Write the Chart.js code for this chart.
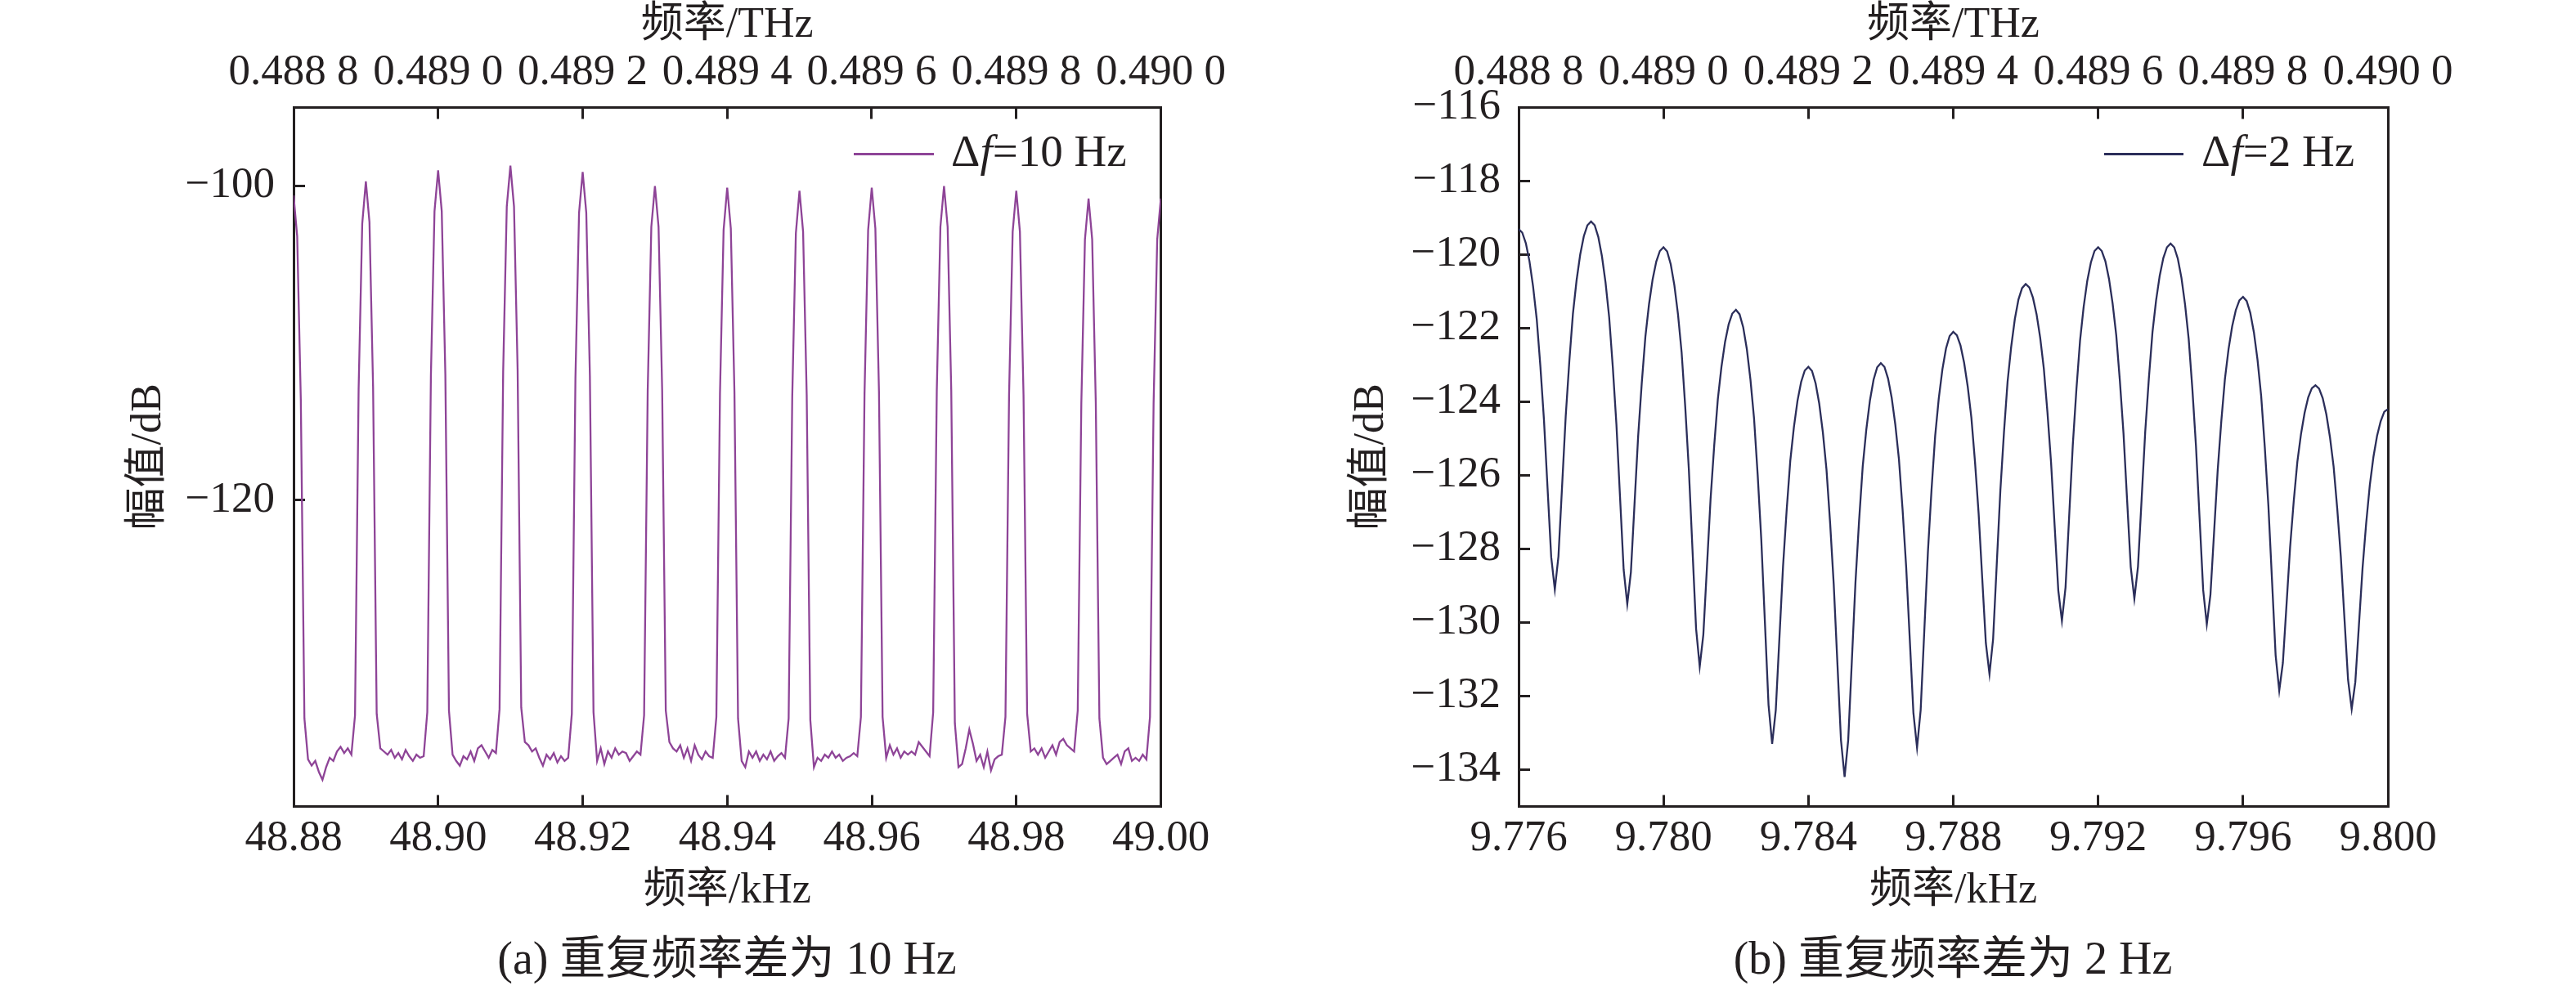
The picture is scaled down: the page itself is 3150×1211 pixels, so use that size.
<!DOCTYPE html>
<html>
    <head>
        <meta charset="UTF-8">
        <title>重复频率差</title>
        <script src="https://cdn.jsdelivr.net/npm/chart.js@4.4.1/dist/chart.umd.min.js"></script>
        <style>
            body { margin: 0; background: #fff; width: 3150px; height: 1211px; overflow: hidden; position: relative; }
            canvas { position: absolute; top: 0; }
            #chartA { left: 0; }
            #chartB { left: 1575px; }
            .txt { position: absolute; font-family: 'Liberation Serif', 'Noto Sans CJK SC', serif; color: #231f20; white-space: nowrap; }
            .legendLine { position: absolute; height: 3px; }
            .caption { width: 1000px; text-align: center; font-size: 56px; line-height: 56px; }
            .legendText { font-size: 55px; line-height: 55px; }
        </style>
    </head>
    <body>
        <canvas id="chartA" width="1575" height="1211"></canvas>
        <canvas id="chartB" width="1575" height="1211"></canvas>

        <div class="legendLine" style="left:1044px; top:187px; width:98px; background:#8e4497;"></div>
        <div class="txt legendText" style="left:1163px; top:157px;">&Delta;<i>f</i>=10 Hz</div>
        <div class="legendLine" style="left:2573px; top:187px; width:97px; background:#2b2e5a;"></div>
        <div class="txt legendText" style="left:2692px; top:157px;">&Delta;<i>f</i>=2 Hz</div>

        <div class="txt caption" style="left:389px; top:1144px;">(a) 重复频率差为 10 Hz</div>
        <div class="txt caption" style="left:1888px; top:1144px;">(b) 重复频率差为 2 Hz</div>

        <script>
            // ---- panel (a): 10 Hz ----
            const freqA = [
                48.8800,48.8805,48.8810,48.8815,48.8820,48.8825,48.8830,48.8835,48.8840,48.8845,48.8850,48.8855,48.8860,48.8865,48.8870,48.8875,48.8880,48.8885,48.8890,48.8895,
                48.8900,48.8905,48.8910,48.8915,48.8920,48.8925,48.8930,48.8935,48.8940,48.8945,48.8950,48.8955,48.8960,48.8965,48.8970,48.8975,48.8980,48.8985,48.8990,48.8995,
                48.9000,48.9005,48.9010,48.9015,48.9020,48.9025,48.9030,48.9035,48.9040,48.9045,48.9050,48.9055,48.9060,48.9065,48.9070,48.9075,48.9080,48.9085,48.9090,48.9095,
                48.9100,48.9105,48.9110,48.9115,48.9120,48.9125,48.9130,48.9135,48.9140,48.9145,48.9150,48.9155,48.9160,48.9165,48.9170,48.9175,48.9180,48.9185,48.9190,48.9195,
                48.9200,48.9205,48.9210,48.9215,48.9220,48.9225,48.9230,48.9235,48.9240,48.9245,48.9250,48.9255,48.9260,48.9265,48.9270,48.9275,48.9280,48.9285,48.9290,48.9295,
                48.9300,48.9305,48.9310,48.9315,48.9320,48.9325,48.9330,48.9335,48.9340,48.9345,48.9350,48.9355,48.9360,48.9365,48.9370,48.9375,48.9380,48.9385,48.9390,48.9395,
                48.9400,48.9405,48.9410,48.9415,48.9420,48.9425,48.9430,48.9435,48.9440,48.9445,48.9450,48.9455,48.9460,48.9465,48.9470,48.9475,48.9480,48.9485,48.9490,48.9495,
                48.9500,48.9505,48.9510,48.9515,48.9520,48.9525,48.9530,48.9535,48.9540,48.9545,48.9550,48.9555,48.9560,48.9565,48.9570,48.9575,48.9580,48.9585,48.9590,48.9595,
                48.9600,48.9605,48.9610,48.9615,48.9620,48.9625,48.9630,48.9635,48.9640,48.9645,48.9650,48.9655,48.9660,48.9665,48.9670,48.9675,48.9680,48.9685,48.9690,48.9695,
                48.9700,48.9705,48.9710,48.9715,48.9720,48.9725,48.9730,48.9735,48.9740,48.9745,48.9750,48.9755,48.9760,48.9765,48.9770,48.9775,48.9780,48.9785,48.9790,48.9795,
                48.9800,48.9805,48.9810,48.9815,48.9820,48.9825,48.9830,48.9835,48.9840,48.9845,48.9850,48.9855,48.9860,48.9865,48.9870,48.9875,48.9880,48.9885,48.9890,48.9895,
                48.9900,48.9905,48.9910,48.9915,48.9920,48.9925,48.9930,48.9935,48.9940,48.9945,48.9950,48.9955,48.9960,48.9965,48.9970,48.9975,48.9980,48.9985,48.9990,48.9995,
                49.0000
            ];
            const ampA = [
                -100.6,-103.2,-113.6,-133.9,-136.5,-136.9,-136.6,-137.3,-137.8,-137.0,-136.4,-136.6,-136.0,-135.7,-136.1,-135.8,-136.2,-133.7,-112.9,-102.4,
                -99.7,-102.3,-112.8,-133.6,-135.8,-136.0,-136.2,-135.9,-136.4,-136.1,-136.5,-135.9,-136.3,-136.6,-136.2,-136.4,-136.3,-133.5,-112.1,-101.6,
                -99.0,-101.6,-112.0,-133.4,-136.2,-136.6,-136.9,-136.3,-136.5,-136.0,-136.6,-135.8,-135.6,-136.0,-136.4,-135.9,-136.1,-133.3,-111.8,-101.3,
                -98.7,-101.3,-111.7,-133.2,-135.4,-135.6,-136.0,-135.8,-136.4,-136.9,-136.2,-136.5,-136.1,-136.7,-136.3,-136.6,-136.4,-133.6,-112.2,-101.7,
                -99.1,-101.7,-112.1,-133.5,-136.6,-135.8,-136.8,-136.0,-136.4,-135.8,-136.2,-136.0,-136.1,-136.6,-136.3,-136.0,-136.2,-133.7,-113.0,-102.6,
                -100.0,-102.6,-113.0,-133.4,-135.4,-135.8,-136.0,-135.6,-136.4,-135.8,-136.6,-135.6,-136.2,-136.5,-136.0,-136.3,-136.4,-133.8,-113.2,-102.8,
                -100.1,-102.7,-113.1,-133.9,-136.6,-137.0,-136.0,-136.4,-136.0,-136.6,-136.2,-136.5,-136.0,-136.6,-136.3,-136.1,-136.4,-133.9,-113.4,-103.0,
                -100.3,-102.9,-113.3,-134.0,-137.0,-136.4,-136.6,-136.2,-136.4,-136.0,-136.4,-136.2,-136.6,-136.4,-136.3,-136.1,-136.3,-133.8,-113.2,-102.8,
                -100.1,-102.7,-113.1,-133.8,-136.4,-135.6,-136.2,-135.8,-136.4,-136.0,-136.2,-136.0,-136.2,-135.4,-135.7,-136.0,-136.3,-133.5,-113.0,-102.6,
                -100.0,-102.6,-113.0,-134.2,-137.0,-136.8,-135.8,-134.6,-135.5,-136.6,-136.2,-137.0,-136.0,-137.2,-136.5,-136.3,-136.2,-133.8,-113.3,-102.9,
                -100.3,-102.9,-113.3,-133.6,-136.0,-135.8,-136.2,-135.8,-136.4,-136.0,-135.6,-136.2,-135.4,-135.2,-135.6,-135.8,-136.0,-133.4,-113.8,-103.4,
                -100.8,-103.4,-113.8,-133.9,-136.4,-136.8,-136.6,-136.4,-136.2,-136.8,-136.0,-135.8,-136.6,-136.4,-136.6,-136.2,-136.5,-133.8,-113.8,-103.4,
                -100.8
            ];
            const xTicksA = [48.88, 48.90, 48.92, 48.94, 48.96, 48.98, 49.00];
            const xLabelsA = ['48.88', '48.90', '48.92', '48.94', '48.96', '48.98', '49.00'];
            const yTicksA = [-120, -100];
            const yLabelsA = ['\u2212120', '\u2212100'];

            // ---- panel (b): 2 Hz ----
            const freqB = [
                9.7760,9.7761,9.7762,9.7763,9.7764,9.7765,9.7766,9.7767,9.7768,9.7769,
                9.7770,9.7771,9.7772,9.7773,9.7774,9.7775,9.7776,9.7777,9.7778,9.7779,
                9.7780,9.7781,9.7782,9.7783,9.7784,9.7785,9.7786,9.7787,9.7788,9.7789,
                9.7790,9.7791,9.7792,9.7793,9.7794,9.7795,9.7796,9.7797,9.7798,9.7799,
                9.7800,9.7801,9.7802,9.7803,9.7804,9.7805,9.7806,9.7807,9.7808,9.7809,
                9.7810,9.7811,9.7812,9.7813,9.7814,9.7815,9.7816,9.7817,9.7818,9.7819,
                9.7820,9.7821,9.7822,9.7823,9.7824,9.7825,9.7826,9.7827,9.7828,9.7829,
                9.7830,9.7831,9.7832,9.7833,9.7834,9.7835,9.7836,9.7837,9.7838,9.7839,
                9.7840,9.7841,9.7842,9.7843,9.7844,9.7845,9.7846,9.7847,9.7848,9.7849,
                9.7850,9.7851,9.7852,9.7853,9.7854,9.7855,9.7856,9.7857,9.7858,9.7859,
                9.7860,9.7861,9.7862,9.7863,9.7864,9.7865,9.7866,9.7867,9.7868,9.7869,
                9.7870,9.7871,9.7872,9.7873,9.7874,9.7875,9.7876,9.7877,9.7878,9.7879,
                9.7880,9.7881,9.7882,9.7883,9.7884,9.7885,9.7886,9.7887,9.7888,9.7889,
                9.7890,9.7891,9.7892,9.7893,9.7894,9.7895,9.7896,9.7897,9.7898,9.7899,
                9.7900,9.7901,9.7902,9.7903,9.7904,9.7905,9.7906,9.7907,9.7908,9.7909,
                9.7910,9.7911,9.7912,9.7913,9.7914,9.7915,9.7916,9.7917,9.7918,9.7919,
                9.7920,9.7921,9.7922,9.7923,9.7924,9.7925,9.7926,9.7927,9.7928,9.7929,
                9.7930,9.7931,9.7932,9.7933,9.7934,9.7935,9.7936,9.7937,9.7938,9.7939,
                9.7940,9.7941,9.7942,9.7943,9.7944,9.7945,9.7946,9.7947,9.7948,9.7949,
                9.7950,9.7951,9.7952,9.7953,9.7954,9.7955,9.7956,9.7957,9.7958,9.7959,
                9.7960,9.7961,9.7962,9.7963,9.7964,9.7965,9.7966,9.7967,9.7968,9.7969,
                9.7970,9.7971,9.7972,9.7973,9.7974,9.7975,9.7976,9.7977,9.7978,9.7979,
                9.7980,9.7981,9.7982,9.7983,9.7984,9.7985,9.7986,9.7987,9.7988,9.7989,
                9.7990,9.7991,9.7992,9.7993,9.7994,9.7995,9.7996,9.7997,9.7998,9.7999,
                9.8000
            ];
            const ampB = [
                -119.3,-119.4,-119.69,-120.18,-120.87,-121.75,-123.02,-124.49,-126.36,-128.22,
                -129.1,-128.2,-126.3,-124.4,-122.9,-121.6,-120.7,-120.0,-119.5,-119.2,
                -119.1,-119.2,-119.52,-120.04,-120.76,-121.7,-123.05,-124.61,-126.59,-128.56,
                -129.5,-128.63,-126.78,-124.94,-123.49,-122.23,-121.35,-120.67,-120.19,-119.9,
                -119.8,-119.91,-120.26,-120.83,-121.62,-122.65,-124.13,-125.84,-128.01,-130.17,
                -131.2,-130.33,-128.48,-126.64,-125.19,-123.93,-123.05,-122.37,-121.89,-121.6,
                -121.5,-121.62,-121.97,-122.56,-123.39,-124.45,-125.98,-127.75,-130.0,-132.24,
                -133.3,-132.38,-130.43,-128.48,-126.95,-125.61,-124.69,-123.97,-123.46,-123.15,
                -123.05,-123.16,-123.5,-124.05,-124.83,-125.84,-127.29,-128.96,-131.08,-133.2,
                -134.2,-133.19,-131.05,-128.91,-127.23,-125.76,-124.75,-123.96,-123.4,-123.06,
                -122.95,-123.05,-123.37,-123.89,-124.62,-125.56,-126.92,-128.49,-130.47,-132.46,
                -133.4,-132.38,-130.24,-128.09,-126.39,-124.93,-123.91,-123.12,-122.55,-122.21,
                -122.1,-122.19,-122.47,-122.94,-123.59,-124.43,-125.63,-127.03,-128.8,-130.56,
                -131.4,-130.45,-128.43,-126.42,-124.83,-123.45,-122.5,-121.75,-121.22,-120.91,
                -120.8,-120.89,-121.17,-121.62,-122.26,-123.09,-124.28,-125.65,-127.39,-129.13,
                -129.95,-129.04,-127.11,-125.18,-123.66,-122.34,-121.42,-120.71,-120.21,-119.9,
                -119.8,-119.9,-120.18,-120.66,-121.33,-122.19,-123.43,-124.86,-126.68,-128.49,
                -129.35,-128.48,-126.65,-124.81,-123.37,-122.11,-121.24,-120.57,-120.09,-119.8,
                -119.7,-119.8,-120.11,-120.63,-121.36,-122.29,-123.63,-125.19,-127.15,-129.12,
                -130.05,-129.25,-127.56,-125.87,-124.53,-123.38,-122.57,-121.95,-121.51,-121.24,
                -121.15,-121.26,-121.58,-122.11,-122.86,-123.83,-125.22,-126.82,-128.85,-130.89,
                -131.85,-131.1,-129.53,-127.95,-126.7,-125.63,-124.88,-124.3,-123.88,-123.63,
                -123.55,-123.64,-123.9,-124.34,-124.96,-125.75,-126.89,-128.21,-129.89,-131.56,
                -132.35,-131.62,-130.07,-128.52,-127.3,-126.27,-125.5,-124.93,-124.53,-124.27,
                -124.2
            ];
            const xTicksB = [9.776, 9.780, 9.784, 9.788, 9.792, 9.796, 9.800];
            const xLabelsB = ['9.776', '9.780', '9.784', '9.788', '9.792', '9.796', '9.800'];
            const yTicksB = [-134, -132, -130, -128, -126, -124, -122, -120, -118, -116];
            const yLabelsB = yTicksB.map(v => '\u2212' + Math.abs(v));

            // top axis (THz), same for both panels
            const topTicks = [0.4888, 0.4890, 0.4892, 0.4894, 0.4896, 0.4898, 0.4900];
            const topLabels = ['0.488 8', '0.489 0', '0.489 2', '0.489 4', '0.489 6', '0.489 8', '0.490 0'];

            const ink = '#231f20';
            const family = "'Liberation Serif', 'Noto Sans CJK SC', serif";
            const tickFont = {family: family, size: 53};
            const titleFont = {family: family, size: 52};

            function fixedTicks(values){
                return s => { s.ticks = values.map(v => ({value: v})); };
            }

            function axisGrid(){
                return {display: true, drawOnChartArea: false, drawTicks: true, tickLength: -14, tickWidth: 3, tickColor: ink};
            }

            function makePanel(canvas, p){
                const points = p.freq.map((f, i) => ({x: f, y: p.amp[i]}));
                return new Chart(canvas, {
                    type: 'line',
                    data: {
                        datasets: [{
                            data: points,
                            borderColor: p.color,
                            borderWidth: 2.3,
                            pointRadius: 0,
                            tension: 0,
                            xAxisID: 'x',
                            yAxisID: 'y'
                        }]
                    },
                    options: {
                        responsive: false,
                        animation: false,
                        devicePixelRatio: 1,
                        layout: {padding: {left: 0, top: 0, right: p.padRight, bottom: 0}},
                        plugins: {legend: {display: false}, tooltip: {enabled: false}},
                        scales: {
                            x: {
                                type: 'linear', position: 'bottom', min: p.xTicks[0], max: p.xTicks[p.xTicks.length - 1],
                                afterBuildTicks: fixedTicks(p.xTicks),
                                afterFit: s => { s.height = 224.5; },
                                ticks: {font: tickFont, color: ink, padding: 22, autoSkip: false, maxRotation: 0,
                                    callback: (v, i) => p.xLabels[i]},
                                grid: axisGrid(),
                                border: {display: true, width: 3, color: ink},
                                title: {display: true, text: '频率/kHz', font: titleFont, color: ink, padding: {top: 0, bottom: 89}}
                            },
                            x2: {
                                type: 'linear', position: 'top', min: topTicks[0], max: topTicks[topTicks.length - 1],
                                afterBuildTicks: fixedTicks(topTicks),
                                afterFit: s => { s.height = 131.5; },
                                ticks: {font: tickFont, color: ink, padding: 25, autoSkip: false, maxRotation: 0,
                                    callback: (v, i) => topLabels[i]},
                                grid: axisGrid(),
                                border: {display: true, width: 3, color: ink},
                                title: {display: true, text: '频率/THz', font: titleFont, color: ink, padding: {top: 0, bottom: 0}}
                            },
                            y: {
                                type: 'linear', position: 'left', min: p.yMin, max: p.yMax,
                                afterBuildTicks: fixedTicks(p.yTicks),
                                afterFit: s => { s.width = p.yWidth; },
                                ticks: {font: tickFont, color: ink, padding: p.yPad,
                                    callback: (v, i) => p.yLabels[i]},
                                grid: axisGrid(),
                                border: {display: true, width: 3, color: ink},
                                title: {display: true, text: '幅值/dB', font: titleFont, color: ink, padding: {top: p.yTitlePad, bottom: 0}}
                            },
                            y2: {
                                type: 'linear', position: 'right', min: p.yMin, max: p.yMax,
                                afterFit: s => { s.width = 0; },
                                ticks: {display: false},
                                grid: {display: false, drawOnChartArea: false, drawTicks: false},
                                border: {display: true, width: 3, color: ink}
                            }
                        }
                    }
                });
            }

            makePanel(document.getElementById('chartA'), {
                freq: freqA, amp: ampA, color: '#8e4497',
                xTicks: xTicksA, xLabels: xLabelsA,
                yTicks: yTicksA, yLabels: yLabelsA, yMin: -139.5, yMax: -95,
                yWidth: 359, yPad: 37, yTitlePad: 151, padRight: 155.5
            });

            makePanel(document.getElementById('chartB'), {
                freq: freqB, amp: ampB, color: '#2b2e5a',
                xTicks: xTicksB, xLabels: xLabelsB,
                yTicks: yTicksB, yLabels: yLabelsB, yMin: -135, yMax: -116,
                yWidth: 282, yPad: 36, yTitlePad: 71, padRight: 230
            });
        </script>
    </body>
</html>
